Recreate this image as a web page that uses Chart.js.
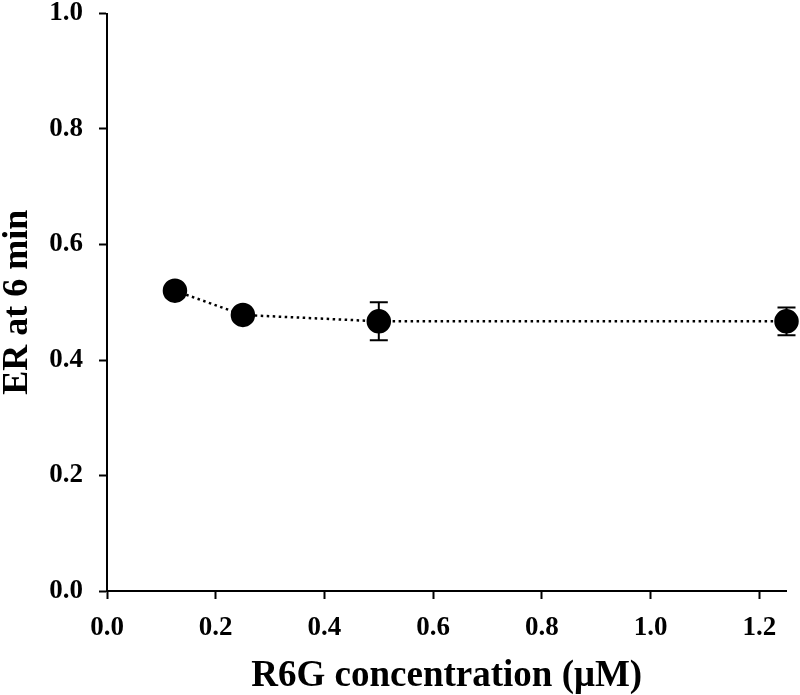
<!DOCTYPE html>
<html lang="en">
<head>
    <meta charset="UTF-8">
    <title>ER at 6 min vs R6G concentration</title>
    <script src="https://cdn.jsdelivr.net/npm/chart.js"></script>
    <style>
        body {
            margin: 0;
            background-color: #fff;
        }
        .chart-container {
            position: relative;
            width: 800px;
            height: 695px;
        }
    </style>
</head>
<body>
    <div class="chart-container">
        <canvas id="erChart"></canvas>
    </div>

    <script>
        // Données
        const concentrations = [0.125, 0.25, 0.5, 1.25];
        const erValues = [0.520, 0.478, 0.467, 0.467];
        const erErrors = [0.010, 0.010, 0.033, 0.024];

        const xTitle = 'R6G concentration (\u03BCM)';
        const yTitle = 'ER at 6 min';

        const fontFamily = '"Liberation Serif", "Times New Roman", serif';

        // barres d'erreur dessinées via les échelles du graphique
        const errorBars = {
            id: 'errorBars',
            afterDatasetsDraw(chart) {
                const { ctx, scales: { x, y } } = chart;
                ctx.save();
                ctx.strokeStyle = '#000';
                ctx.lineWidth = 2;
                concentrations.forEach((c, i) => {
                    const px = x.getPixelForValue(c);
                    const top = y.getPixelForValue(erValues[i] + erErrors[i]);
                    const bottom = y.getPixelForValue(erValues[i] - erErrors[i]);
                    ctx.beginPath();
                    ctx.moveTo(px, top);
                    ctx.lineTo(px, bottom);
                    ctx.moveTo(px - 9, top);
                    ctx.lineTo(px + 9, top);
                    ctx.moveTo(px - 9, bottom);
                    ctx.lineTo(px + 9, bottom);
                    ctx.stroke();
                });
                ctx.restore();
            }
        };

        const points = concentrations.map((c, i) => ({ x: c, y: erValues[i] }));

        new Chart(document.getElementById('erChart'), {
            type: 'scatter',
            data: {
                datasets: [{
                    data: points,
                    showLine: true,
                    borderColor: '#000',
                    borderWidth: 2.5,
                    borderDash: [2.5, 3.5],
                    pointRadius: 11,
                    pointHoverRadius: 11,
                    pointBackgroundColor: '#000',
                    pointBorderColor: '#000',
                    clip: false
                }]
            },
            options: {
                responsive: true,
                maintainAspectRatio: false,
                animation: false,
                layout: {
                    padding: { top: 11, right: 11, left: 0, bottom: 0 }
                },
                plugins: {
                    legend: { display: false },
                    tooltip: { enabled: false }
                },
                scales: {
                    x: {
                        type: 'linear',
                        min: 0,
                        max: 1.25,
                        afterFit: s => {
                            s.height = 104;
                            s.paddingLeft = 0;
                            s.paddingRight = 0;
                        },
                        border: { color: '#000', width: 2 },
                        grid: {
                            drawOnChartArea: false,
                            tickLength: 8,
                            tickColor: '#000',
                            tickWidth: 2
                        },
                        ticks: {
                            stepSize: 0.2,
                            includeBounds: false,
                            padding: 13,
                            color: '#000',
                            maxRotation: 0,
                            font: { family: fontFamily, size: 27, weight: 'bold' },
                            callback: v => v.toFixed(1)
                        },
                        title: {
                            display: true,
                            text: xTitle,
                            color: '#000',
                            padding: 0,
                            font: { family: fontFamily, size: 37, weight: 'bold', lineHeight: 1 }
                        }
                    },
                    y: {
                        min: 0,
                        max: 1,
                        afterFit: s => {
                            s.width = 107;
                            s.paddingTop = 0;
                            s.paddingBottom = 0;
                        },
                        border: { color: '#000', width: 2 },
                        grid: {
                            drawOnChartArea: false,
                            tickLength: 8,
                            tickColor: '#000',
                            tickWidth: 2
                        },
                        ticks: {
                            stepSize: 0.2,
                            padding: 16,
                            color: '#000',
                            font: { family: fontFamily, size: 27, weight: 'bold' },
                            callback: v => v.toFixed(1)
                        },
                        title: {
                            display: true,
                            text: yTitle,
                            color: '#000',
                            padding: 0,
                            font: { family: fontFamily, size: 36, weight: 'bold', lineHeight: 1 }
                        }
                    }
                }
            },
            plugins: [errorBars]
        });
    </script>
</body>
</html>
